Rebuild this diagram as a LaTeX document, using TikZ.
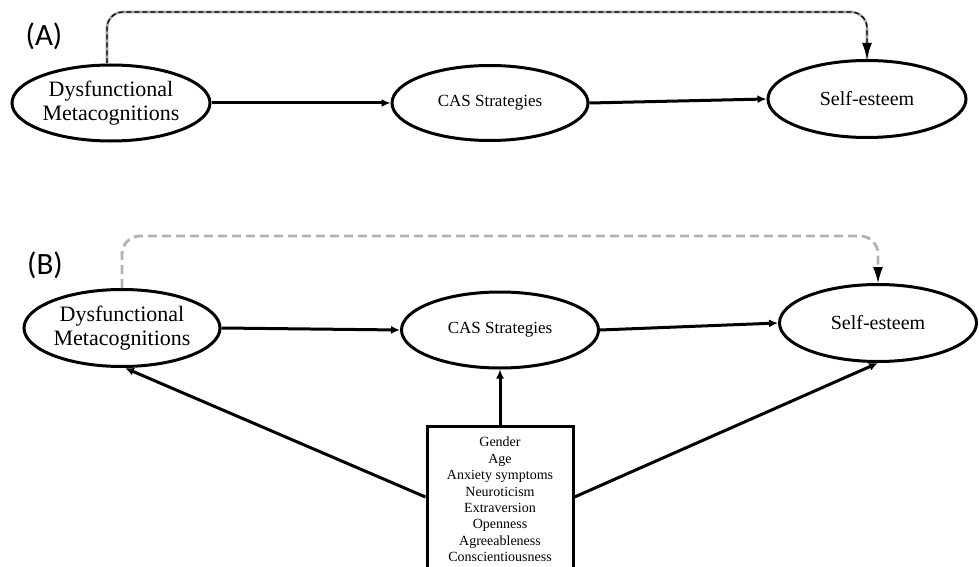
\documentclass[tikz,border=0pt]{standalone}
\usepackage{fontspec}
\setmainfont{Liberation Serif}
\newfontfamily\labfont{Carlito}
\usetikzlibrary{shapes.geometric,arrows.meta}
\begin{document}
\begin{tikzpicture}[x=1pt,y=-1pt,
  ell/.style={draw,ellipse,line width=3pt,inner sep=0pt,align=center},
  conn/.style={line width=3pt,-{Latex[length=9pt,width=8pt]}},
  dashA/.style={line width=2.6pt,gray!70,rounded corners=16pt},
  dashAtop/.style={line width=1.2pt,black,dash pattern=on 5pt off 3pt,rounded corners=16pt,-{Latex[length=16pt,width=10pt]}},
  dashB/.style={line width=2.8pt,gray!60,dash pattern=on 9pt off 5pt,rounded corners=18pt},
  panel/.style={font=\labfont\fontsize{31}{34}\selectfont},
  vars/.style={align=center,inner sep=0pt,font=\fontsize{14}{16.4}\selectfont}]
\useasboundingbox (0,0) rectangle (979,567);

% ---- Panel A ----
\node[panel] (labA) at (44,36) {(A)};
\node[ell,minimum width=198,minimum height=76,font=\fontsize{22}{24}\selectfont] (dmA) at (111,103) {Dysfunctional\\Metacognitions};
\node[ell,minimum width=196,minimum height=75,font=\fontsize{17}{20}\selectfont] (casA) at (490,103) {CAS Strategies};
\node[ell,minimum width=198,minimum height=77,font=\fontsize{20}{22}\selectfont] (seA) at (867,99) {Self-esteem};
\coordinate (topA) at (500,12);
\draw[conn] (dmA.east) -- (casA.west);
\draw[conn] (casA.east) -- (seA.west);
\draw[dashA] ([xshift=-4]dmA.north) -- ([xshift=-4]dmA.north |- topA) -| (seA.north);
\draw[dashAtop] ([xshift=-4]dmA.north) -- ([xshift=-4]dmA.north |- topA) -| (seA.north);

% ---- Panel B ----
\node[panel] (labB) at (45,265) {(B)};
\node[ell,minimum width=196,minimum height=77,font=\fontsize{22}{24}\selectfont] (dmB) at (122,328) {Dysfunctional\\Metacognitions};
\node[ell,minimum width=197,minimum height=76,font=\fontsize{17}{20}\selectfont] (casB) at (500,330) {CAS Strategies};
\node[ell,minimum width=197,minimum height=77,font=\fontsize{20}{22}\selectfont] (seB) at (878,323) {Self-esteem};
\coordinate (topB) at (500,236);
\draw[conn] (dmB.east) -- (casB.west);
\draw[conn] (casB.east) -- (seB.west);
\draw[dashB] (dmB.north) -- (dmB.north |- topB) -| ([yshift=14]seB.north);
\draw[line width=1.2pt,-{Latex[length=16pt,width=10pt]}] ([yshift=15]seB.north) -- (seB.north);

\node[draw,line width=3pt,minimum width=146,minimum height=170,anchor=north,inner sep=0pt] (box) at (500,425) {};
\node[vars,anchor=north] (varlist) at ([yshift=-12]box.north) {Gender\\Age\\Anxiety symptoms\\Neuroticism\\Extraversion\\Openness\\Agreeableness\\Conscientiousness};
\draw[conn] (box.north) -- (casB.south);
\draw[conn] ([yshift=-72]box.north west) -- ([xshift=3]dmB.south);
\draw[conn] ([yshift=-72]box.north east) -- (seB.south);
\end{tikzpicture}
\end{document}
